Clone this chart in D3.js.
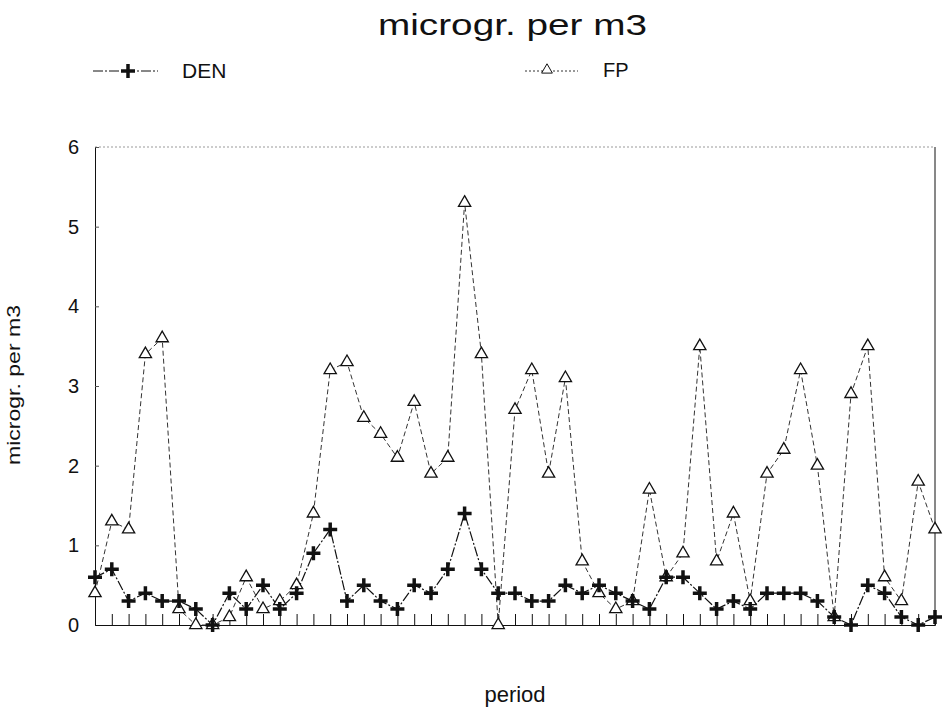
<!DOCTYPE html>
<html>
<head>
<meta charset="utf-8">
<script src="https://cdn.jsdelivr.net/npm/d3@7"></script>
<style>
  body { margin: 0; background: #fff; }
  text { font-family: "Liberation Sans", Arial, sans-serif; fill: #111; }
</style>
</head>
<body>
<div id="chart"></div>
<script>
// data, one value per period
let periods = d3.range(51)
let den = [0.6, 0.7, 0.3, 0.4, 0.3, 0.3, 0.2, 0.0, 0.4, 0.2, 0.5, 0.2, 0.4, 0.9, 1.2, 0.3, 0.5, 0.3, 0.2, 0.5,
  0.4, 0.7, 1.4, 0.7, 0.4, 0.4, 0.3, 0.3, 0.5, 0.4, 0.5, 0.4, 0.3, 0.2, 0.6, 0.6, 0.4, 0.2, 0.3, 0.2,
  0.4, 0.4, 0.4, 0.3, 0.1, 0.0, 0.5, 0.4, 0.1, 0.0, 0.1]
let fp = [0.4, 1.3, 1.2, 3.4, 3.6, 0.2, 0.0, 0.0, 0.1, 0.6, 0.2, 0.3, 0.5, 1.4, 3.2, 3.3, 2.6, 2.4, 2.1, 2.8,
  1.9, 2.1, 5.3, 3.4, 0.0, 2.7, 3.2, 1.9, 3.1, 0.8, 0.4, 0.2, 0.3, 1.7, 0.6, 0.9, 3.5, 0.8, 1.4, 0.3,
  1.9, 2.2, 3.2, 2.0, 0.1, 2.9, 3.5, 0.6, 0.3, 1.8, 1.2]
let yTicks = [0, 1, 2, 3, 4, 5, 6]
let seriesNames = ["DEN", "FP"]

let width = 946
let height = 710
let margin = { top: 147, right: 11, bottom: 85, left: 95 }

let svg = d3.select("#chart")
  .append("svg")
  .attr("width", width)
  .attr("height", height)

let x = d3.scaleLinear()
  .domain([0, 50])
  .range([margin.left, width - margin.right])

let y = d3.scaleLinear()
  .domain([0, 6])
  .range([height - margin.bottom, margin.top])

// title (the original font is wider than Arial, so stretch it)
svg.append("text")
  .attr("x", 378)
  .attr("y", 35)
  .attr("textLength", 269)
  .attr("lengthAdjust", "spacingAndGlyphs")
  .style("font-size", "30px")
  .text("microgr. per m3")

// frame: dotted top, solid right
svg.append("line")
  .attr("x1", x(0)).attr("x2", x(50))
  .attr("y1", y(6)).attr("y2", y(6))
  .attr("stroke", "#999")
  .attr("stroke-dasharray", "2,2")
svg.append("line")
  .attr("x1", x(50)).attr("x2", x(50))
  .attr("y1", y(6)).attr("y2", y(0))
  .attr("stroke", "#111")

// y axis
let yAxis = svg.append("g")
  .attr("transform", "translate(" + x(0) + ",0)")
  .call(d3.axisLeft(y).tickValues(yTicks).tickFormat(d3.format("d")).tickSize(-4).tickPadding(16))
yAxis.select(".domain").attr("stroke", "#111")
yAxis.selectAll("text").style("font-size", "20px").attr("fill", "#111")
yAxis.selectAll(".tick line").attr("stroke", "#555")

// x axis, ticks pointing up
let xAxis = svg.append("g")
  .attr("transform", "translate(0," + y(0) + ")")
  .call(d3.axisBottom(x).tickValues(periods).tickSize(-11).tickFormat(""))
xAxis.select(".domain").attr("stroke", "#111")
xAxis.selectAll(".tick line").attr("stroke", "#111")

// axis titles
svg.append("text")
  .attr("transform", "translate(20,385) rotate(-90)")
  .attr("x", -80)
  .attr("textLength", 160)
  .attr("lengthAdjust", "spacingAndGlyphs")
  .style("font-size", "18px")
  .text("microgr. per m3")

svg.append("text")
  .attr("x", 515)
  .attr("y", 702)
  .attr("text-anchor", "middle")
  .style("font-size", "22px")
  .text("period")

let line = d3.line()
  .x((d, i) => x(periods[i]))
  .y((d) => y(d))

// FP line
svg.append("path")
  .datum(fp)
  .attr("d", line)
  .attr("fill", "none")
  .attr("stroke", "#333")
  .attr("stroke-width", 1)
  .attr("stroke-dasharray", "5,3")

// DEN line
svg.append("path")
  .datum(den)
  .attr("d", line)
  .attr("fill", "none")
  .attr("stroke", "#111")
  .attr("stroke-width", 1.2)
  .attr("stroke-dasharray", "10,2,2,2")

let triangle = d3.symbol().type(d3.symbolTriangle).size(65)
let cross = "M-7,0H7M0,-7V7"

// FP markers
svg.selectAll(".fp")
  .data(fp)
  .enter()
  .append("path")
  .attr("class", "fp")
  .attr("d", triangle)
  .attr("transform", (d, i) => "translate(" + x(periods[i]) + "," + y(d) + ")")
  .attr("fill", "#fff")
  .attr("stroke", "#111")
  .attr("stroke-width", 1.3)

// DEN markers
svg.selectAll(".den")
  .data(den)
  .enter()
  .append("path")
  .attr("class", "den")
  .attr("d", cross)
  .attr("transform", (d, i) => "translate(" + x(periods[i]) + "," + y(d) + ")")
  .attr("stroke", "#111")
  .attr("stroke-width", 3.5)

// legend
let legend = svg.append("g")
legend.append("line")
  .attr("x1", 93).attr("x2", 158).attr("y1", 71).attr("y2", 71)
  .attr("stroke", "#111").attr("stroke-dasharray", "10,2,2,2")
legend.append("path")
  .attr("d", cross)
  .attr("transform", "translate(128,71)")
  .attr("stroke", "#111").attr("stroke-width", 3.5)
legend.append("text")
  .attr("x", 182).attr("y", 78)
  .style("font-size", "21px")
  .text(seriesNames[0])

legend.append("line")
  .attr("x1", 525).attr("x2", 578).attr("y1", 71).attr("y2", 71)
  .attr("stroke", "#333").attr("stroke-dasharray", "2,2")
legend.append("path")
  .attr("d", d3.symbol().type(d3.symbolTriangle).size(50))
  .attr("transform", "translate(547,70)")
  .attr("fill", "#fff").attr("stroke", "#111")
legend.append("text")
  .attr("x", 603).attr("y", 77)
  .style("font-size", "20px")
  .text(seriesNames[1])
</script>
</body>
</html>
